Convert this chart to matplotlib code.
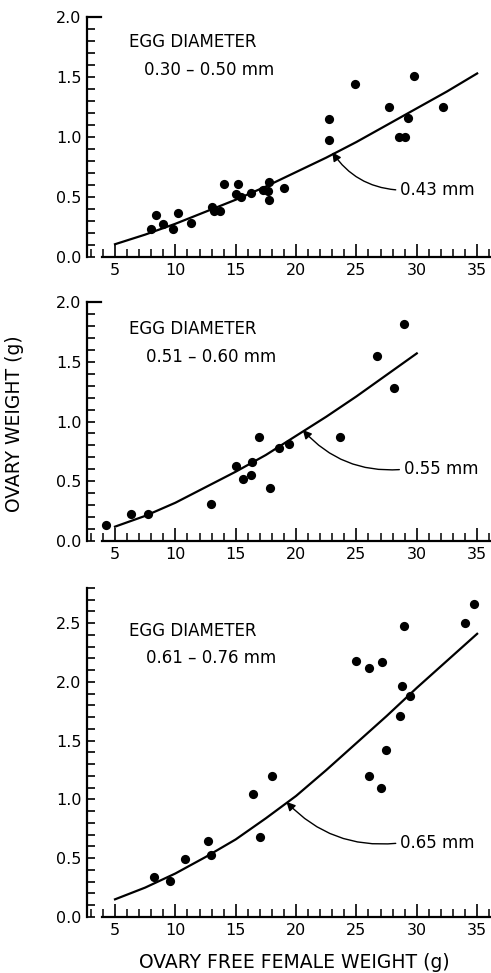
import numpy as np
import matplotlib
matplotlib.use("Agg")
import matplotlib.pyplot as plt
from matplotlib.ticker import MultipleLocator, FormatStrFormatter

# egg diameter 0.30 - 0.50 mm
p1_x = [7.96, 8.43, 8.98, 9.81, 10.22, 11.26, 13.03, 13.2, 13.66, 14.02, 15.18, 15.04, 15.45, 16.28,
        17.27, 17.79, 17.66, 17.79, 19.03, 22.70, 22.75, 24.9, 27.71, 28.54, 29.0, 29.28, 29.73, 32.2]
p1_y = [0.24, 0.35, 0.28, 0.24, 0.37, 0.29, 0.42, 0.39, 0.39, 0.61, 0.61, 0.53, 0.50, 0.54,
        0.56, 0.63, 0.55, 0.48, 0.58, 0.98, 1.15, 1.44, 1.25, 1.00, 1.00, 1.16, 1.51, 1.25]
p1_fit_x = [5, 7.5, 10, 12.5, 15, 17.5, 20, 22.5, 25, 27.5, 30, 32.5, 35]
p1_fit_y = [0.11, 0.19, 0.28, 0.38, 0.48, 0.59, 0.71, 0.83, 0.96, 1.10, 1.24, 1.38, 1.53]

# egg diameter 0.51 - 0.60 mm
p2_x = [4.25, 6.3, 7.76, 12.95, 15.02, 15.58, 16.27, 16.32, 16.95, 17.84, 18.61, 19.44, 23.64, 26.68, 28.14, 28.94]
p2_y = [0.13, 0.23, 0.23, 0.31, 0.63, 0.52, 0.55, 0.66, 0.87, 0.44, 0.78, 0.81, 0.87, 1.55, 1.28, 1.82]
p2_fit_x = [5, 7.5, 10, 12.5, 15, 17.5, 20, 22.5, 25, 27.5, 30]
p2_fit_y = [0.12, 0.21, 0.32, 0.45, 0.58, 0.72, 0.88, 1.04, 1.21, 1.39, 1.57]

# egg diameter 0.61 - 0.76 mm
p3_x = [8.19, 9.58, 10.78, 12.69, 12.92, 16.44, 17.03, 18.0, 25.0, 26.05, 27.08, 28.94, 34.03, 34.72,
        28.75, 29.44, 28.61, 27.44, 26.05, 27.03]
p3_y = [0.34, 0.31, 0.49, 0.65, 0.53, 1.05, 0.68, 1.20, 2.18, 2.12, 2.17, 2.48, 2.50, 2.66,
        1.97, 1.88, 1.71, 1.42, 1.20, 1.10]
p3_fit_x = [5, 7.5, 10, 12.5, 15, 17.5, 20, 22.5, 25, 27.5, 30, 32.5, 35]
p3_fit_y = [0.15, 0.25, 0.37, 0.51, 0.66, 0.84, 1.03, 1.25, 1.48, 1.71, 1.95, 2.18, 2.41]

ranges = ["0.30 \u2013 0.50 mm", "0.51 \u2013 0.60 mm", "0.61 \u2013 0.76 mm"]
fit_labels = ["0.43 mm", "0.55 mm", "0.65 mm"]
ymaxes = [2.0, 2.0, 2.8]

# layout (figure fractions) and label placement in data units
positions = [[0.1772, 0.7354, 0.8216, 0.2472],
             [0.1772, 0.4440, 0.8216, 0.2456],
             [0.1772, 0.0576, 0.8216, 0.3381]]
title_xy = [(6.2, 1.79), (6.2, 1.775), (6.2, 2.43)]
range_xy = [(7.4, 1.56), (7.6, 1.54), (7.6, 2.20)]
arrow_tip = [(23.0, 0.875), (20.55, 0.93), (19.2, 0.98)]
arrow_text = [(28.6, 0.56), (28.9, 0.60), (28.6, 0.63)]

fig = plt.figure(figsize=(4.91, 9.73), dpi=100)

data = [(p1_x, p1_y, p1_fit_x, p1_fit_y),
        (p2_x, p2_y, p2_fit_x, p2_fit_y),
        (p3_x, p3_y, p3_fit_x, p3_fit_y)]

for i, (xs, ys, fx, fy) in enumerate(data):
    ax = fig.add_axes(positions[i])
    ax.scatter(xs, ys, s=44, c="black", zorder=3, clip_on=False, linewidths=0)
    ax.plot(fx, fy, c="black", lw=1.6, solid_joinstyle="round")

    ax.set_xlim(2.68, 36.1)
    ax.set_ylim(0, ymaxes[i])

    for side in ["top", "right"]:
        ax.spines[side].set_visible(False)
    ax.spines["left"].set_linewidth(1.6)
    ax.spines["bottom"].set_linewidth(1.6)
    ax.spines["left"].set_bounds(0, ymaxes[i])
    ax.spines["bottom"].set_bounds(3.9, 36.1)

    ax.xaxis.set_major_locator(MultipleLocator(5))
    ax.xaxis.set_minor_locator(MultipleLocator(1))
    ax.yaxis.set_major_locator(MultipleLocator(0.5))
    ax.yaxis.set_minor_locator(MultipleLocator(0.1))
    ax.yaxis.set_major_formatter(FormatStrFormatter("%.1f"))

    ax.tick_params(axis="x", which="major", direction="in", length=9.5, width=1.2, labelsize=11.5, pad=4)
    ax.tick_params(axis="x", which="minor", direction="in", length=5.5, width=1.1)
    ax.tick_params(axis="y", which="both", direction="in", length=6, width=1.2, labelsize=11.5, pad=4)

    if ymaxes[i] == 2.0:
        # longer cap tick at the top of the y axis
        ax.plot([0, 0.035], [ymaxes[i], ymaxes[i]], c="black", lw=1.6,
                transform=ax.get_yaxis_transform(), clip_on=False)

    ax.text(title_xy[i][0], title_xy[i][1], "EGG DIAMETER", fontsize=12, va="center", ha="left")
    ax.text(range_xy[i][0], range_xy[i][1], ranges[i], fontsize=12, va="center", ha="left")

    ax.annotate(fit_labels[i], xy=arrow_tip[i], xytext=arrow_text[i], fontsize=12,
                va="center", ha="left",
                arrowprops=dict(arrowstyle="-|>", color="black", lw=1.0, mutation_scale=13,
                                connectionstyle="arc3,rad=-0.25", relpos=(0, 0.5),
                                shrinkA=1, shrinkB=0))

fig.text(0.03, 0.565, "OVARY WEIGHT (g)", rotation=90, fontsize=13.5, ha="center", va="center")
fig.text(0.599, 0.011, "OVARY FREE FEMALE WEIGHT (g)", fontsize=13.5, ha="center", va="center")

plt.savefig("out.png", dpi=100)
